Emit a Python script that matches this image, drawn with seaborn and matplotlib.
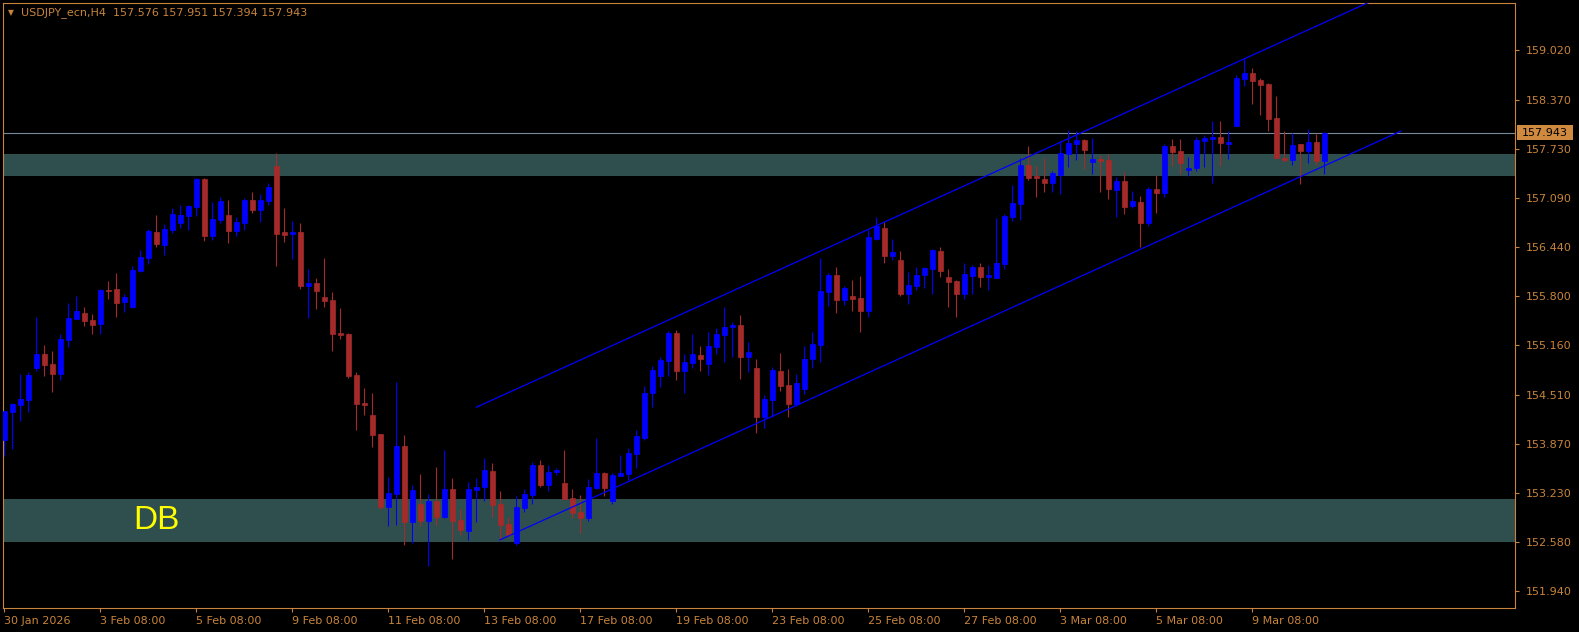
import pandas as pd
import seaborn as sns
import matplotlib.pyplot as plt
from matplotlib.patches import Rectangle
from matplotlib.transforms import blended_transform_factory

# H4 candles, USDJPY_ecn
opens = [153.918, 154.289, 154.377, 154.442, 154.865, 155.044, 154.913, 154.782, 155.227, 155.502,
         155.581, 155.489, 155.437, 155.882, 155.895, 155.725, 155.659, 156.131, 156.301, 156.641,
         156.471, 156.667, 156.759, 156.851, 156.968, 157.335, 156.589, 156.798, 156.864, 156.654,
         156.759, 157.060, 156.929, 157.047, 157.505, 156.641, 156.615, 156.641, 155.934, 155.974,
         155.790, 155.751, 155.319, 155.306, 154.769, 154.403, 154.246, 153.997, 153.041, 153.212,
         153.840, 152.845, 153.081, 152.858, 153.120, 152.910, 153.277, 152.871, 152.727, 153.264,
         153.303, 153.513, 153.081, 152.819, 152.570, 153.028, 153.198, 153.591, 153.329, 153.500,
         153.355, 153.159, 152.976, 152.897, 153.290, 153.487, 153.120, 153.447, 153.473, 153.735,
         153.945, 154.534, 154.756, 154.952, 155.319, 154.822, 154.926, 155.031, 154.913, 155.136,
         155.293, 155.398, 155.424, 155.005, 154.861, 154.220, 154.442, 154.822, 154.638, 154.390,
         154.586, 154.979, 155.162, 155.856, 156.078, 155.751, 155.803, 155.777, 155.607, 156.550,
         156.693, 156.327, 156.275, 155.830, 155.934, 156.078, 156.157, 156.392, 156.052, 156.000,
         155.830, 156.065, 156.183, 156.052, 156.039, 156.222, 156.838, 157.008, 157.518, 157.374,
         157.335, 157.283, 157.387, 157.662, 157.793, 157.845, 157.557, 157.597, 157.584, 157.191,
         157.309, 156.981, 157.034, 156.759, 157.204, 157.152, 157.767, 157.701, 157.453, 157.479,
         157.832, 157.858, 157.885, 157.793, 158.029, 158.644, 158.722, 158.631, 158.578, 158.133,
         157.610, 157.584, 157.793, 157.701, 157.819, 157.576]

highs = [154.298, 154.407, 154.782, 154.812, 155.532, 155.162, 155.083, 155.306, 155.708, 155.807,
         155.663, 155.568, 155.895, 156.000, 156.104, 155.830, 156.196, 156.405, 156.680, 156.864,
         156.746, 156.955, 156.995, 156.995, 157.348, 157.348, 157.034, 157.099, 157.060, 156.838,
         157.086, 157.165, 157.139, 157.283, 157.675, 156.955, 156.785, 156.759, 156.157, 156.039,
         156.301, 155.856, 155.646, 155.319, 154.809, 154.599, 154.534, 153.997, 153.434, 154.678,
         153.984, 153.329, 153.473, 153.212, 153.565, 153.788, 153.421, 153.015, 153.369, 153.421,
         153.683, 153.617, 153.251, 152.910, 153.185, 153.277, 153.630, 153.657, 153.591, 153.552,
         153.788, 153.277, 153.198, 153.408, 153.945, 153.500, 153.487, 153.722, 153.814, 154.049,
         154.625, 154.887, 155.005, 155.345, 155.358, 155.044, 155.306, 155.149, 155.332, 155.384,
         155.659, 155.463, 155.555, 155.201, 154.979, 154.508, 154.874, 155.057, 154.848, 154.782,
         155.149, 155.332, 156.301, 156.104, 156.183, 155.934, 156.013, 156.065, 156.667, 156.838,
         156.772, 156.550, 156.392, 156.118, 156.183, 156.183, 156.419, 156.445, 156.157, 156.013,
         156.235, 156.209, 156.235, 156.209, 156.824, 156.877, 157.256, 157.610, 157.767, 157.505,
         157.610, 157.440, 157.832, 157.976, 157.963, 157.858, 157.872, 157.649, 157.662, 157.361,
         157.426, 157.178, 157.112, 157.230, 157.387, 157.793, 157.858, 157.858, 157.623, 157.885,
         157.911, 158.094, 158.094, 157.963, 158.696, 158.919, 158.788, 158.657, 158.592, 158.421,
         157.963, 157.937, 157.793, 157.989, 157.924, 157.951]

lows = [153.709, 153.801, 154.171, 154.289, 154.822, 154.756, 154.551, 154.704, 155.140, 155.502,
        155.411, 155.306, 155.306, 155.764, 155.528, 155.594, 155.646, 156.118, 156.222, 156.445,
        156.340, 156.628, 156.693, 156.667, 156.851, 156.523, 156.536, 156.759, 156.497, 156.589,
        156.667, 156.890, 156.772, 156.995, 156.196, 156.510, 156.288, 155.895, 155.515, 155.633,
        155.659, 155.083, 155.240, 154.730, 154.049, 154.246, 153.827, 153.015, 152.793, 152.806,
        152.544, 152.570, 152.793, 152.269, 152.806, 152.897, 152.361, 152.675, 152.609, 152.845,
        153.120, 152.910, 152.609, 152.662, 152.544, 152.976, 153.081, 153.303, 153.251, 153.460,
        153.146, 152.897, 152.701, 152.858, 153.277, 153.185, 153.081, 153.447, 153.395, 153.552,
        153.918, 154.350, 154.612, 154.756, 154.704, 154.534, 154.861, 154.822, 154.769, 155.044,
        154.939, 155.005, 154.717, 154.809, 154.010, 154.075, 154.220, 154.560, 154.220, 154.364,
        154.521, 154.861, 154.939, 155.672, 155.581, 155.685, 155.607, 155.332, 155.528, 156.536,
        156.235, 156.275, 155.803, 155.699, 155.882, 155.908, 155.830, 156.052, 155.659, 155.528,
        155.764, 155.830, 155.921, 155.882, 156.039, 156.157, 156.785, 156.798, 157.322, 157.099,
        157.165, 157.165, 157.139, 157.492, 157.584, 157.466, 157.400, 157.165, 157.073, 156.838,
        156.877, 156.955, 156.445, 156.720, 156.890, 157.099, 157.505, 157.400, 157.374, 157.440,
        157.492, 157.283, 157.505, 157.597, 158.029, 158.552, 158.317, 158.173, 157.963, 157.610,
        157.557, 157.518, 157.269, 157.544, 157.518, 157.394]

closes = [154.298, 154.390, 154.455, 154.769, 155.044, 154.900, 154.782, 155.240, 155.515, 155.607,
          155.476, 155.424, 155.882, 155.873, 155.712, 155.790, 156.144, 156.314, 156.654, 156.484,
          156.680, 156.877, 156.864, 156.981, 157.335, 156.589, 156.811, 157.047, 156.654, 156.772,
          157.060, 156.929, 157.060, 157.230, 156.615, 156.602, 156.641, 155.934, 155.974, 155.869,
          155.738, 155.306, 155.293, 154.756, 154.390, 154.377, 153.984, 153.041, 153.225, 153.840,
          152.845, 153.264, 152.858, 153.120, 152.910, 153.277, 152.858, 152.740, 153.277, 153.303,
          153.526, 153.068, 152.806, 152.675, 153.041, 153.212, 153.591, 153.329, 153.500, 153.526,
          153.146, 152.963, 152.897, 153.303, 153.487, 153.290, 153.460, 153.487, 153.748, 153.971,
          154.534, 154.835, 154.966, 155.319, 154.822, 154.939, 155.044, 154.979, 155.149, 155.306,
          155.398, 155.424, 155.005, 155.070, 154.220, 154.455, 154.835, 154.625, 154.390, 154.665,
          154.979, 155.175, 155.869, 156.078, 155.751, 155.908, 155.764, 155.607, 156.576, 156.720,
          156.327, 156.379, 155.830, 155.947, 156.078, 156.170, 156.405, 156.131, 155.987, 155.830,
          156.091, 156.183, 156.052, 156.078, 156.235, 156.851, 157.021, 157.518, 157.348, 157.348,
          157.283, 157.413, 157.675, 157.806, 157.845, 157.715, 157.597, 157.571, 157.204, 157.309,
          156.968, 157.047, 156.759, 157.204, 157.152, 157.767, 157.688, 157.544, 157.479, 157.845,
          157.872, 157.885, 157.806, 157.819, 158.657, 158.722, 158.618, 158.565, 158.120, 157.610,
          157.584, 157.780, 157.701, 157.819, 157.571, 157.943]

date_labels = ["30 Jan 2026", "3 Feb 08:00", "5 Feb 08:00", "9 Feb 08:00", "11 Feb 08:00",
               "13 Feb 08:00", "17 Feb 08:00", "19 Feb 08:00", "23 Feb 08:00", "25 Feb 08:00",
               "27 Feb 08:00", "3 Mar 08:00", "5 Mar 08:00", "9 Mar 08:00"]
bars_per_label = 12

price_ticks = [151.94, 152.58, 153.23, 153.87, 154.51, 155.16, 155.80, 156.44, 157.09, 157.73, 158.37, 159.02]

zone_upper = (157.374, 157.662)
zone_db = (152.587, 153.146)
last_price = 157.943

# channel anchors (bar index, price)
channel_lower = [(61.9, 152.609), (174.6, 157.963)]
channel_upper = [(58.96, 154.346), (174.6, 159.839)]

BULL = '#0000FF'
BEAR = '#A52A2A'
TXT = '#C8843C'

df = pd.DataFrame({'open': opens, 'high': highs, 'low': lows, 'close': closes})
df['bar'] = range(len(df))
df['color'] = [BULL if c > o else BEAR for o, c in zip(df['open'], df['close'])]

sns.set_style('dark', {'axes.facecolor': 'black', 'figure.facecolor': 'black'})
plt.rcParams['font.family'] = ['DejaVu Sans']

fig = plt.figure(figsize=(15.79, 6.32), dpi=100)
ax = fig.add_axes([2.5 / 1579, 24 / 632, 1512.5 / 1579, 605.5 / 632])
ax.set_facecolor('black')
ax.grid(False)

# support / resistance zones
ax.axhspan(*zone_upper, color='#2F4F4F', zorder=0.5, lw=0)
ax.axhspan(*zone_db, color='#2F4F4F', zorder=0.5, lw=0)
ax.axhline(last_price, color='#778899', lw=0.8, zorder=1)

# candles
ax.vlines(df['bar'], df['low'], df['high'], colors=df['color'], lw=0.8, zorder=2)
body_lo = df[['open', 'close']].min(axis=1)
body_h = (df['close'] - df['open']).abs()
ax.bar(df['bar'], body_h, bottom=body_lo, width=0.58, color=df['color'],
       edgecolor=df['color'], linewidth=0.5, zorder=3)

# trend channel
for pts in (channel_lower, channel_upper):
    sns.lineplot(x=[p[0] for p in pts], y=[p[1] for p in pts], color='#0000FF',
                 lw=0.9, ax=ax, zorder=4)

ax.text(16.1, (zone_db[0] + zone_db[1]) / 2, 'DB', color='#FFFF00', fontsize=24,
        family='Liberation Sans', va='center', ha='left', zorder=5)

ax.set_xlim(-0.25, 188.84)
ax.set_ylim(151.719, 159.645)

ax.yaxis.tick_right()
ax.set_yticks(price_ticks)
ax.set_yticklabels([f'{t:.3f}' for t in price_ticks])
ax.set_xticks([i * bars_per_label for i in range(len(date_labels))])
ax.set_xticklabels(date_labels, ha='left')
ax.tick_params(axis='y', colors=TXT, labelcolor=TXT, length=3, width=0.8, pad=5, labelsize=8, direction='out')
ax.tick_params(axis='x', colors=TXT, labelcolor=TXT, length=3, width=0.8, pad=3, labelsize=8, direction='out')
ax.tick_params(left=False, right=True, bottom=True)
for sp in ax.spines.values():
    sp.set_color(TXT)
    sp.set_linewidth(0.8)
    sp.set_visible(True)

# current price tag on the price scale
tr = blended_transform_factory(ax.transAxes, ax.transData)
ax.add_patch(Rectangle((1.0013, last_price - 0.092), 0.037, 0.184, transform=tr,
                       facecolor='#D08A40', edgecolor='none', clip_on=False, zorder=6))
ax.text(1.0046, last_price, f'{last_price:.3f}', transform=tr, color='black', fontsize=8,
        va='center', ha='left', zorder=7, clip_on=False)

fig.text(10.5 / 1579, 1 - 12.5 / 632, '\u25bc', color=TXT, fontsize=5.5, ha='center', va='center')
fig.text(21 / 1579, 1 - 12.7 / 632,
         'USDJPY_ecn,H4  ' + ' '.join(f'{v:.3f}' for v in (opens[-1], highs[-1], lows[-1], closes[-1])),
         color=TXT, fontsize=8, ha='left', va='center')

fig.savefig('out.png', dpi=100, facecolor='black')
